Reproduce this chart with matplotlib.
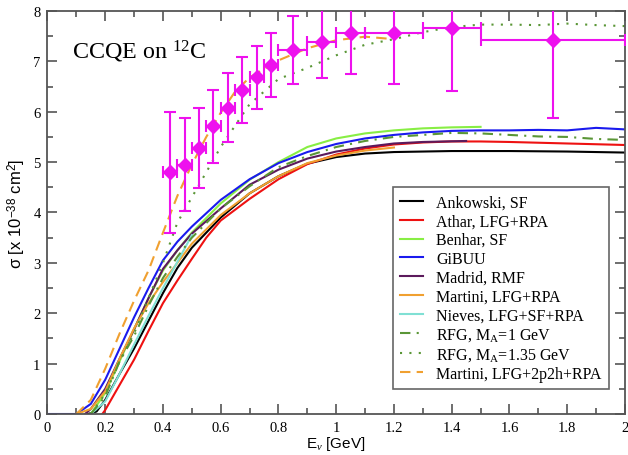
import matplotlib
matplotlib.use('Agg')
import matplotlib.pyplot as plt
from matplotlib.ticker import MultipleLocator

# MiniBooNE-style CCQE data points (per bin)
data_e = [0.425, 0.475, 0.525, 0.575, 0.625, 0.675, 0.725, 0.775, 0.85, 0.95, 1.05, 1.2, 1.4, 1.75]
data_ex = [0.025, 0.025, 0.025, 0.025, 0.025, 0.025, 0.025, 0.025, 0.05, 0.05, 0.05, 0.1, 0.1, 0.25]
data_sigma = [4.80, 4.95, 5.28, 5.71, 6.08, 6.43, 6.68, 6.93, 7.23, 7.39, 7.56, 7.56, 7.67, 7.42]
data_err = [1.20, 0.93, 0.80, 0.73, 0.68, 0.65, 0.63, 0.64, 0.68, 0.73, 0.81, 1.00, 1.26, 1.55]

# model curves
ankowski_e = [0.14, 0.17, 0.2, 0.25, 0.3, 0.35, 0.4, 0.45, 0.5, 0.6, 0.7, 0.8, 0.9, 1.0, 1.1, 1.2, 1.4, 1.6, 1.8, 2.0]
ankowski_s = [0.0, 0.05, 0.28, 0.8, 1.3, 1.85, 2.4, 2.9, 3.3, 3.9, 4.38, 4.72, 4.97, 5.1, 5.17, 5.2, 5.22, 5.22, 5.21, 5.19]

athar_e = [0.19, 0.2, 0.25, 0.3, 0.35, 0.4, 0.45, 0.5, 0.55, 0.6, 0.7, 0.8, 0.9, 1.0, 1.1, 1.2, 1.3, 1.4, 1.5, 1.6, 1.8, 2.0]
athar_s = [0.0, 0.08, 0.58, 1.08, 1.65, 2.2, 2.65, 3.08, 3.5, 3.84, 4.27, 4.66, 4.96, 5.15, 5.27, 5.35, 5.39, 5.41, 5.41, 5.4, 5.37, 5.34]

benhar_e = [0.15, 0.2, 0.25, 0.3, 0.35, 0.4, 0.45, 0.5, 0.6, 0.7, 0.8, 0.9, 1.0, 1.1, 1.2, 1.3, 1.4, 1.5]
benhar_s = [0.0, 0.42, 1.05, 1.68, 2.3, 2.85, 3.25, 3.6, 4.18, 4.65, 5.0, 5.3, 5.47, 5.57, 5.63, 5.67, 5.69, 5.7]

gibuu_e = [0.0, 0.1, 0.15, 0.2, 0.25, 0.3, 0.35, 0.4, 0.45, 0.5, 0.6, 0.7, 0.8, 0.9, 1.0, 1.1, 1.2, 1.3, 1.4, 1.5, 1.6, 1.7, 1.8, 1.9, 2.0]
gibuu_s = [0.0, 0.0, 0.2, 0.68, 1.3, 1.92, 2.5, 3.05, 3.42, 3.72, 4.25, 4.66, 4.98, 5.2, 5.36, 5.47, 5.54, 5.59, 5.62, 5.63, 5.63, 5.64, 5.63, 5.68, 5.65]

madrid_e = [0.13, 0.15, 0.2, 0.25, 0.3, 0.35, 0.4, 0.45, 0.5, 0.6, 0.7, 0.8, 0.9, 1.0, 1.1, 1.2, 1.3, 1.45]
madrid_s = [0.0, 0.1, 0.5, 1.1, 1.68, 2.3, 2.88, 3.25, 3.58, 4.08, 4.55, 4.85, 5.07, 5.21, 5.3, 5.37, 5.4, 5.42]

martini_e = [0.1, 0.15, 0.2, 0.25, 0.3, 0.35, 0.4, 0.45, 0.5, 0.6, 0.7, 0.8, 0.9, 1.0, 1.1, 1.2]
martini_s = [0.0, 0.1, 0.45, 1.1, 1.7, 2.2, 2.62, 3.0, 3.38, 3.95, 4.38, 4.72, 4.98, 5.13, 5.23, 5.29]

nieves_e = [0.15, 0.2, 0.25, 0.3, 0.35, 0.4, 0.45, 0.5]
nieves_s = [0.0, 0.25, 0.8, 1.38, 1.95, 2.5, 3.02, 3.55]

rfg1_e = [0.15, 0.2, 0.25, 0.3, 0.35, 0.4, 0.45, 0.5, 0.6, 0.7, 0.8, 0.9, 1.0, 1.1, 1.2, 1.3, 1.4, 1.5, 1.6, 1.7, 1.8, 1.9, 2.0]
rfg1_s = [0.0, 0.35, 1.05, 1.55, 2.15, 2.7, 3.12, 3.5, 4.08, 4.52, 4.9, 5.12, 5.3, 5.42, 5.5, 5.54, 5.58, 5.57, 5.54, 5.51, 5.5, 5.46, 5.44]

rfg135_e = [0.15, 0.2, 0.25, 0.3, 0.35, 0.4, 0.45, 0.5, 0.6, 0.7, 0.8, 0.9, 1.0, 1.1, 1.2, 1.3, 1.4, 1.5, 1.6, 1.7, 1.8, 1.9, 2.0]
rfg135_s = [0.0, 0.4, 1.05, 1.6, 2.3, 3.0, 3.8, 4.3, 5.3, 6.15, 6.65, 6.87, 7.12, 7.33, 7.44, 7.58, 7.68, 7.73, 7.73, 7.72, 7.75, 7.72, 7.7]

martini2p2h_e = [0.1, 0.15, 0.2, 0.25, 0.3, 0.35, 0.4, 0.45, 0.5, 0.55, 0.6, 0.65, 0.7, 0.8, 0.9, 1.0, 1.1, 1.2]
martini2p2h_s = [0.0, 0.28, 0.9, 1.6, 2.25, 2.85, 3.6, 4.33, 4.95, 5.5, 5.98, 6.4, 6.68, 7.02, 7.26, 7.42, 7.49, 7.44]

x_ticks = [0, 0.2, 0.4, 0.6, 0.8, 1.0, 1.2, 1.4, 1.6, 1.8, 2.0]
x_tick_labels = ['0', '0.2', '0.4', '0.6', '0.8', '1', '1.2', '1.4', '1.6', '1.8', '2']
y_ticks = [0, 1, 2, 3, 4, 5, 6, 7, 8]

SERIF = ['Liberation Serif', 'DejaVu Serif']
SANS = ['Liberation Sans', 'DejaVu Sans']
plt.rcParams['mathtext.fontset'] = 'custom'
plt.rcParams['mathtext.rm'] = 'Liberation Serif'
plt.rcParams['mathtext.it'] = 'Liberation Serif:italic'

fig = plt.figure(figsize=(6.28, 4.56), dpi=100)
ax = fig.add_axes([0.0756, 0.0899, 0.9195, 0.8838])

lw = 1.5
ax.plot(ankowski_e, ankowski_s, color='black', lw=lw, label='Ankowski, SF')
ax.plot(athar_e, athar_s, color='#ee1111', lw=lw, label='Athar, LFG+RPA')
ax.plot(benhar_e, benhar_s, color='#88ee44', lw=lw, label='Benhar, SF')
ax.plot(gibuu_e, gibuu_s, color='#1a1aee', lw=lw, label='GiBUU')
ax.plot(madrid_e, madrid_s, color='#5c1a5c', lw=lw, label='Madrid, RMF')
ax.plot(martini_e, martini_s, color='#f0a030', lw=lw, label='Martini, LFG+RPA')
ax.plot(nieves_e, nieves_s, color='#80e0d4', lw=lw, label='Nieves, LFG+SF+RPA')
ax.plot(rfg1_e, rfg1_s, color='#5a9636', lw=lw, dashes=(5, 3, 1, 3),
        label='RFG, M$_{\\mathregular{A}}$=1 GeV')
ax.plot(rfg135_e, rfg135_s, color='#5a9636', lw=lw, dashes=(1, 3.5),
        label='RFG, M$_{\\mathregular{A}}$=1.35 GeV')
ax.plot(martini2p2h_e, martini2p2h_s, color='#f0a030', lw=lw, dashes=(5, 3),
        label='Martini, LFG+2p2h+RPA')

ax.errorbar(data_e, data_sigma, yerr=data_err, xerr=data_ex, fmt='D', color='#ee11ee',
            ms=7.5, capsize=4.5, elinewidth=1.5, capthick=1.5, zorder=5)

ax.text(0.085, 7.2, 'CCQE on $^{\\mathregular{12}}$C', fontsize=17.3, family=SERIF,
        va='center', ha='left')

ax.set_xlim(0, 2)
ax.set_ylim(0, 8)
ax.set_xticks(x_ticks)
ax.set_xticklabels(x_tick_labels)
ax.set_yticks(y_ticks)
ax.xaxis.set_minor_locator(MultipleLocator(0.1))
ax.yaxis.set_minor_locator(MultipleLocator(0.5))
ax.tick_params(which='both', direction='in', top=True, right=True, color='#555555', width=1.2)
ax.tick_params(which='major', length=7, labelsize=10.5, pad=5)
ax.tick_params(which='minor', length=4)
for lab in ax.get_xticklabels() + ax.get_yticklabels():
    lab.set_family(SERIF)
for sp in ax.spines.values():
    sp.set_color('#555555')
    sp.set_linewidth(1.3)

ax.set_xlabel('E$_{\\nu}$ [GeV]', fontsize=11, family=SANS, labelpad=0)
ax.set_ylabel('σ [x 10$^{\\mathregular{-38}}$ cm$^{\\mathregular{2}}$]', fontsize=12,
              family=SANS, labelpad=4)

leg = ax.legend(loc='lower right', bbox_to_anchor=(0.972, 0.062), borderaxespad=0,
                prop={'family': SERIF, 'size': 11.5}, handlelength=1.45, labelspacing=0.18,
                handletextpad=0.8, borderpad=0.45, fancybox=False, framealpha=1)
leg.get_frame().set_edgecolor('#666666')
leg.get_frame().set_linewidth(1.2)

fig.savefig('out.png', dpi=100)
